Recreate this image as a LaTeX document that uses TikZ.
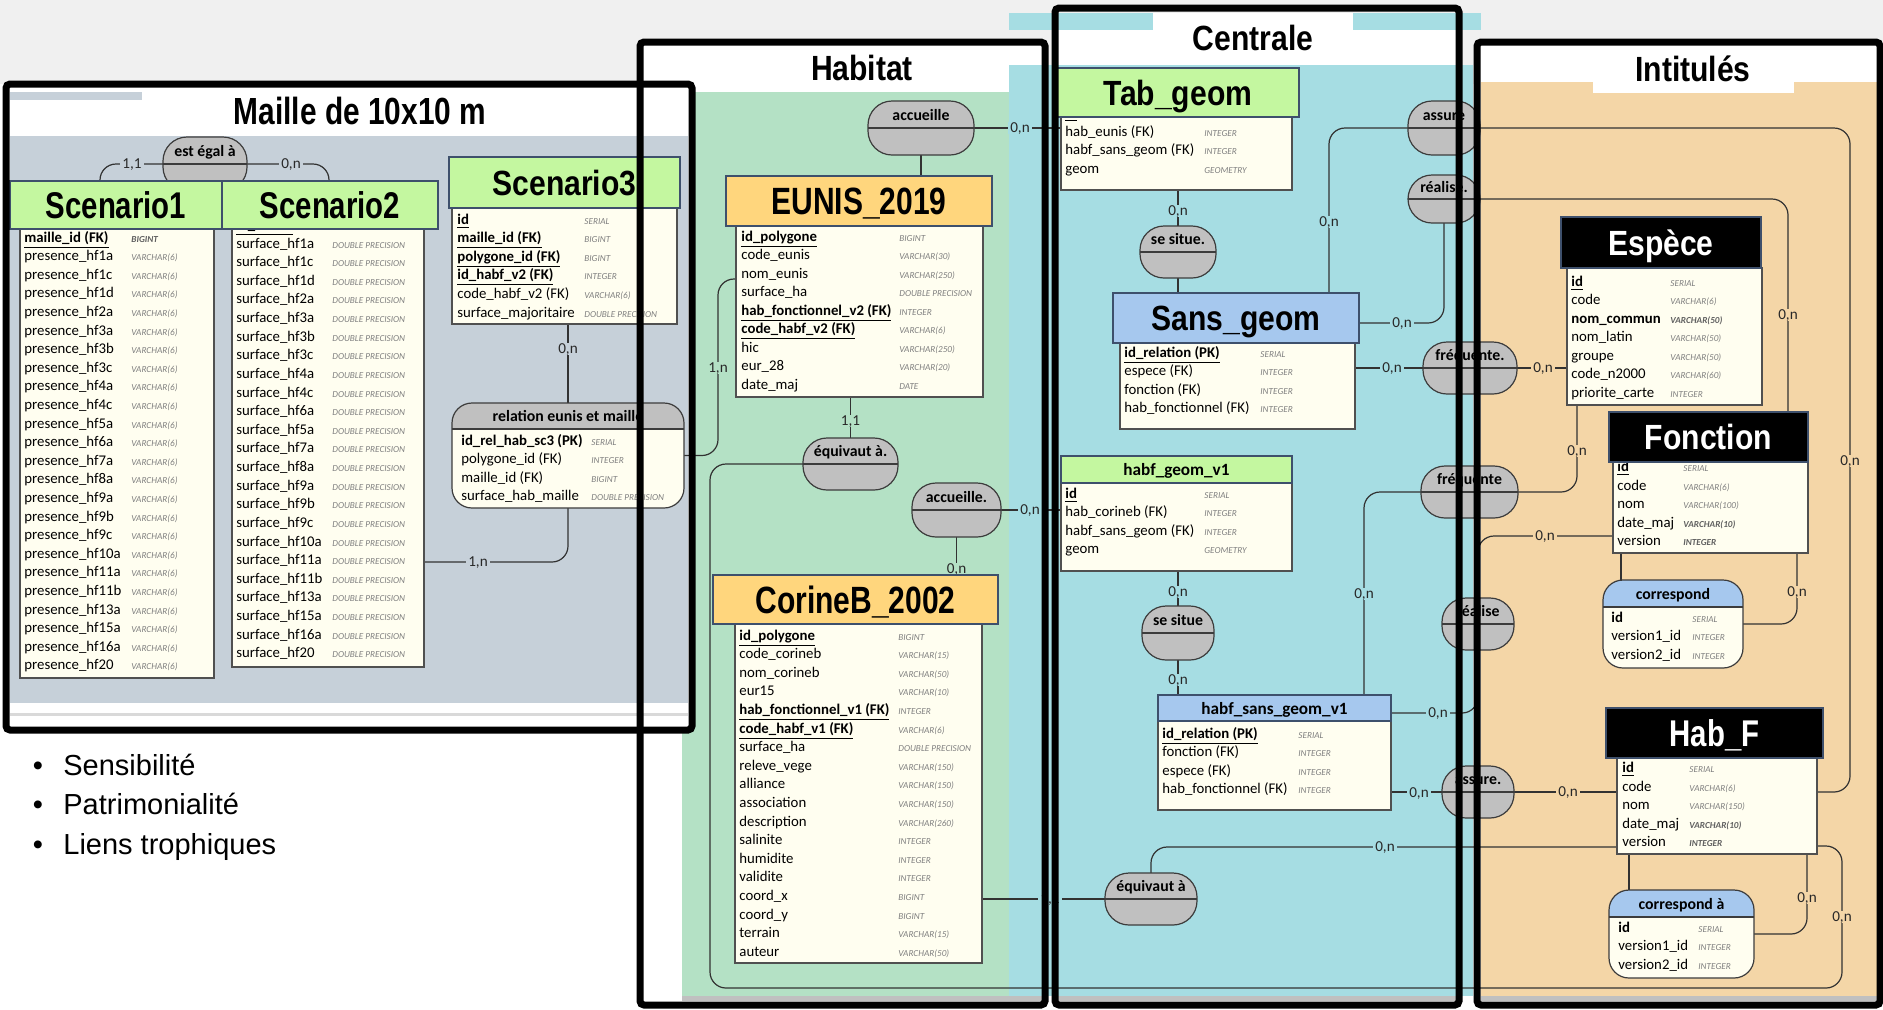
\documentclass[tikz,border=0pt]{standalone}
\usepackage{fontspec}
\setmainfont{Carlito}
\newfontfamily\hdrA[FakeStretch=0.86]{Liberation Sans}
\newfontfamily\hdrB[FakeStretch=0.79]{Liberation Sans}
\newfontfamily\arialf{Liberation Sans}
\usetikzlibrary{calc}
\pgfdeclarelayer{bg}
\pgfdeclarelayer{conn}
\pgfdeclarelayer{top}
\pgfsetlayers{bg,conn,main,top}
\definecolor{topg}{RGB}{240,240,240}
\definecolor{mgray}{RGB}{198,208,217}
\definecolor{hgreen}{RGB}{180,225,197}
\definecolor{ccyan}{RGB}{166,221,227}
\definecolor{iorange}{RGB}{244,214,167}
\definecolor{bandg}{RGB}{192,192,192}
\definecolor{bodyc}{RGB}{255,254,240}
\definecolor{bodyd}{RGB}{80,80,80}
\definecolor{hdrd}{RGB}{62,80,108}
\definecolor{hgr}{RGB}{196,247,160}
\definecolor{hor}{RGB}{255,214,125}
\definecolor{hbl}{RGB}{166,200,238}
\definecolor{relc}{RGB}{192,192,192}
\definecolor{reld}{RGB}{60,60,60}
\definecolor{lnc}{RGB}{50,50,50}
\definecolor{typec}{RGB}{128,128,128}
\definecolor{typedk}{RGB}{95,95,95}
\definecolor{lbltc}{RGB}{40,40,40}
\newcommand\kf[1]{\underline{\textbf{#1}}}
\newcommand\dk[1]{\textcolor{typedk}{\bfseries #1}}
\tikzset{
 conn/.style={draw=lnc, line width=0.6pt, rounded corners=8pt},
 lbl/.style={font=\fontsize{7.6}{8}\selectfont, text=lbltc, inner xsep=1pt, inner ysep=0.6pt, text height=4.8pt, text depth=0pt},
 fname/.style={font=\fontsize{7.4}{9}\selectfont, inner sep=0pt},
 ftype/.style={font=\fontsize{4.6}{5}\selectfont\itshape, inner sep=0pt, text=typec},
 tbody/.style={fill=bodyc, draw=bodyd, line width=0.6pt, inner sep=0pt, outer sep=0pt},
 thdr/.style={draw=hdrd, line width=0.8pt, inner sep=0pt, outer sep=0pt, text depth=0pt},
 shdr/.style={draw=hdrd, line width=0.6pt, inner sep=0pt, outer sep=0pt, text height=6pt, text depth=0pt, font=\bfseries\fontsize{8.6}{9}\selectfont},
 relbox/.style={fill=relc, draw=reld, line width=0.6pt, rounded corners=12pt, inner sep=0pt, outer sep=0pt},
 reltxt/.style={font=\bfseries\fontsize{7.9}{9}\selectfont, inner sep=0pt, text height=5.6pt, text depth=0pt},
 framebox/.style={draw=black, line width=3.5pt, rounded corners=2pt},
 ttl/.style={inner sep=0pt, text depth=0pt},
 bul/.style={font=\arialf\fontsize{14.5}{15}\selectfont, inner sep=0pt},
}
\newcommand\tbl[5]{\node[tbody, anchor=north west, minimum width={(#4-#2)*0.5pt}, minimum height={(#5-#3)*0.5pt}] (#1) at (#2,#3) {};}
\newcommand\hd[9]{\node[thdr, #6, anchor=north west, minimum width={(#4-#2)*0.5pt}, minimum height={(#5-#3)*0.5pt}, font=#8\bfseries\selectfont, text height=#9] (#1) at (#2,#3) {#7};}
\newcommand\sh[7]{\node[shdr, fill=#6, anchor=north west, minimum width={(#4-#2)*0.5pt}, minimum height={(#5-#3)*0.5pt}] (#1) at (#2,#3) {#7};}
\newcommand\rl[6]{%
 \node[relbox, anchor=north west, minimum width={(#4-#2)*0.5pt}, minimum height={(#5-#3)*0.5pt}] (#1) at (#2,#3) {};
 \draw[reld, line width=0.6pt] (#1.west) -- (#1.east);
 \node[reltxt] (#1t) at ($(#1.north)!0.5!(#1.center)$) {#6};}
\newcommand\rt[8]{%
 \fill[bodyc, rounded corners=10pt] (#2,#3) rectangle (#4,#5);
 \begin{scope}
  \clip[rounded corners=10pt] (#2,#3) rectangle (#4,#5);
  \fill[#7] (#2,#3) rectangle (#4,#6);
 \end{scope}
 \draw[reld, line width=0.6pt] (#2,#6) -- (#4,#6);
 \node[draw=reld, line width=0.6pt, rounded corners=10pt, inner sep=0pt, outer sep=0pt, anchor=north west, minimum width={(#4-#2)*0.5pt}, minimum height={(#5-#3)*0.5pt}] (#1) at (#2,#3) {};
 \node[reltxt] (#1t) at ({(#2+#4)/2},{(#3+#6)/2}) {#8};}
\newcommand\rows[6]{\foreach \nm/\ty [count=\i from 0] in {#6}{%
 \node[fname, anchor=base west] (#1n\i) at (#2,{#4+\i*#5}) {\nm};
 \node[ftype, anchor=base west] (#1t\i) at (#3,{#4+\i*#5}) {\ty};}}
\newcommand\lab[5]{\node[lbl, fill=#4] (#1) at (#2,#3) {#5};}
\begin{document}
\begin{tikzpicture}[x=0.5pt,y=-0.5pt]
\useasboundingbox (0,0) rectangle (1883,1009);
% ---------------- backgrounds
\begin{pgfonlayer}{bg}
\fill[white] (0,0) rectangle (1883,1009);
\fill[topg] (0,0) rectangle (1883,84);
\fill[white] (640,42) rectangle (1045,1005);
\fill[hgreen] (682,92) rectangle (1010,996);
\fill[bandg] (682,996) rectangle (1045,1001);
\fill[ccyan] (1009,13) rectangle (1481,30);
\fill[ccyan] (1009,65) rectangle (1473,996);
\fill[white] (1058,30) rectangle (1456,65);
\fill[white] (1153,13) rectangle (1353,30);
\fill[bandg] (1058,996) rectangle (1456,1001);
\fill[white] (1477,42) rectangle (1880,1005);
\fill[iorange] (1481,82) rectangle (1877,996);
\fill[white] (1593,45) rectangle (1794,93);
\fill[bandg] (1481,996) rectangle (1877,1001);
\fill[white] (6,84) rectangle (692,730);
\fill[mgray] (10,136) rectangle (688,703);
\fill[mgray] (10,92) rectangle (142,100);
\fill[bandg!60] (10,713) rectangle (688,716);
\end{pgfonlayer}
% ---------------- titles
\node[ttl, font=\hdrB\bfseries\fontsize{18.9}{19}\selectfont, text height=13.5pt] (tmaille) at (360,110.5) {Maille de 10x10 m};
\node[ttl, font=\hdrA\bfseries\fontsize{17.5}{18}\selectfont, text height=12.5pt] (thab) at (862,67.5) {Habitat};
\node[ttl, font=\hdrA\bfseries\fontsize{17.5}{18}\selectfont, text height=12.5pt] (tcen) at (1253,37.5) {Centrale};
\node[ttl, font=\hdrA\bfseries\fontsize{17.5}{18}\selectfont, text height=12.5pt] (tint) at (1693,69) {Intitulés};
% ---------------- relations
\rl{estegal}{163}{137}{247}{191}{est égal à}
\rl{acc1}{868}{101}{974}{155}{accueille}
\rl{eq1}{803}{438}{898}{490}{équivaut à.}
\rl{acc2}{912}{483}{1001}{537}{accueille.}
\rl{ss1}{1140}{226}{1216}{278}{se situe.}
\rl{ss2}{1142}{606}{1214}{660}{se situe}
\rl{as1}{1408}{101}{1480}{155}{assure}
\rl{rz1}{1408}{175}{1480}{223}{réalise.}
\rl{fq1}{1423}{342}{1517}{394}{fréquente.}
\rl{fq2}{1421}{466}{1518}{518}{fréquente}
\rl{rz2}{1442}{598}{1514}{650}{réalise}
\rl{as2}{1442}{766}{1514}{818}{assure.}
\rl{eq2}{1105}{873}{1197}{925}{équivaut à}
% ---------------- table bodies
\tbl{s1b}{20}{229}{214}{678}
\tbl{s2b}{232}{229}{424}{667}
\tbl{s3b}{452}{208}{677}{324}
\tbl{eub}{736}{226}{983}{397}
\tbl{cbb}{735}{624}{982}{963}
\tbl{tgb}{1061}{117}{1292}{190}
\tbl{sgb}{1120}{343}{1355}{429}
\tbl{hgb}{1061}{483}{1292}{571}
\tbl{hsb}{1158}{721}{1391}{810}
\tbl{esb}{1567}{268}{1762}{405}
\tbl{fob}{1613}{462}{1808}{553}
\tbl{hfb}{1617}{758}{1817}{854}
\rt{re}{452}{403}{684}{508}{429}{relc}{relation eunis et maille}
\rt{co}{1603}{580}{1743}{668}{607}{hbl}{correspond}
\rt{ca}{1609}{890}{1754}{978}{917}{hbl}{correspond à}
% ---------------- rows
\rows{s1}{24}{131}{242}{18.6}{\kf{maille\_id (FK)}/\dk{BIGINT}, presence\_hf1a/VARCHAR(6), presence\_hf1c/VARCHAR(6), presence\_hf1d/VARCHAR(6), presence\_hf2a/VARCHAR(6), presence\_hf3a/VARCHAR(6), presence\_hf3b/VARCHAR(6), presence\_hf3c/VARCHAR(6), presence\_hf4a/VARCHAR(6), presence\_hf4c/VARCHAR(6), presence\_hf5a/VARCHAR(6), presence\_hf6a/VARCHAR(6), presence\_hf7a/VARCHAR(6), presence\_hf8a/VARCHAR(6), presence\_hf9a/VARCHAR(6), presence\_hf9b/VARCHAR(6), presence\_hf9c/VARCHAR(6), presence\_hf10a/VARCHAR(6), presence\_hf11a/VARCHAR(6), presence\_hf11b/VARCHAR(6), presence\_hf13a/VARCHAR(6), presence\_hf15a/VARCHAR(6), presence\_hf16a/VARCHAR(6), presence\_hf20/VARCHAR(6)}
\rows{s2}{236}{332}{229.5}{18.62}{\kf{id\_maille}/BIGINT, surface\_hf1a/DOUBLE PRECISION, surface\_hf1c/DOUBLE PRECISION, surface\_hf1d/DOUBLE PRECISION, surface\_hf2a/DOUBLE PRECISION, surface\_hf3a/DOUBLE PRECISION, surface\_hf3b/DOUBLE PRECISION, surface\_hf3c/DOUBLE PRECISION, surface\_hf4a/DOUBLE PRECISION, surface\_hf4c/DOUBLE PRECISION, surface\_hf6a/DOUBLE PRECISION, surface\_hf5a/DOUBLE PRECISION, surface\_hf7a/DOUBLE PRECISION, surface\_hf8a/DOUBLE PRECISION, surface\_hf9a/DOUBLE PRECISION, surface\_hf9b/DOUBLE PRECISION, surface\_hf9c/DOUBLE PRECISION, surface\_hf10a/DOUBLE PRECISION, surface\_hf11a/DOUBLE PRECISION, surface\_hf11b/DOUBLE PRECISION, surface\_hf13a/DOUBLE PRECISION, surface\_hf15a/DOUBLE PRECISION, surface\_hf16a/DOUBLE PRECISION, surface\_hf20/DOUBLE PRECISION}
\rows{s3}{457}{584}{224}{18.6}{\kf{id}/SERIAL, \kf{maille\_id (FK)}/BIGINT, \kf{polygone\_id (FK)}/BIGINT, \kf{id\_habf\_v2 (FK)}/INTEGER, code\_habf\_v2 (FK)/VARCHAR(6), surface\_majoritaire/DOUBLE PRECISION}
\rows{re}{461}{591}{445}{18.6}{\textbf{id\_rel\_hab\_sc3 (PK)}/SERIAL, polygone\_id (FK)/INTEGER, maille\_id (FK)/BIGINT, surface\_hab\_maille/DOUBLE PRECISION}
\rows{eu}{741}{899}{241}{18.5}{\kf{id\_polygone}/BIGINT, code\_eunis/VARCHAR(30), nom\_eunis/VARCHAR(250), surface\_ha/DOUBLE PRECISION, \kf{hab\_fonctionnel\_v2 (FK)}/INTEGER, \kf{code\_habf\_v2 (FK)}/VARCHAR(6), hic/VARCHAR(250), eur\_28/VARCHAR(20), date\_maj/DATE}
\rows{cb}{739}{898}{640}{18.6}{\kf{id\_polygone}/BIGINT, code\_corineb/VARCHAR(15), nom\_corineb/VARCHAR(50), eur15/VARCHAR(10), \kf{hab\_fonctionnel\_v1 (FK)}/INTEGER, \kf{code\_habf\_v1 (FK)}/VARCHAR(6), surface\_ha/DOUBLE PRECISION, releve\_vege/VARCHAR(150), alliance/VARCHAR(150), association/VARCHAR(150), description/VARCHAR(260), salinite/INTEGER, humidite/INTEGER, validite/INTEGER, coord\_x/BIGINT, coord\_y/BIGINT, terrain/VARCHAR(15), auteur/VARCHAR(50)}
\rows{tg}{1065}{1204}{117.5}{18.5}{\kf{id}/SERIAL, hab\_eunis (FK)/INTEGER, habf\_sans\_geom (FK)/INTEGER, geom/GEOMETRY}
\rows{sg}{1124}{1260}{357}{18.5}{\kf{id\_relation (PK)}/SERIAL, espece (FK)/INTEGER, fonction (FK)/INTEGER, hab\_fonctionnel (FK)/INTEGER}
\rows{hg}{1065}{1204}{498}{18.6}{\kf{id}/SERIAL, hab\_corineb (FK)/INTEGER, habf\_sans\_geom (FK)/INTEGER, geom/GEOMETRY}
\rows{hs}{1162}{1298}{738}{18.6}{\kf{id\_relation (PK)}/SERIAL, fonction (FK)/INTEGER, espece (FK)/INTEGER, hab\_fonctionnel (FK)/INTEGER}
\rows{es}{1571}{1670}{286}{18.5}{\kf{id}/SERIAL, code/VARCHAR(6), \textbf{nom\_commun}/\dk{VARCHAR(50)}, nom\_latin/VARCHAR(50), groupe/VARCHAR(50), code\_n2000/VARCHAR(60), priorite\_carte/INTEGER}
\rows{fo}{1617}{1683}{471.4}{18.6}{\kf{id}/SERIAL, code/VARCHAR(6), nom/VARCHAR(100), date\_maj/\dk{VARCHAR(10)}, version/\dk{INTEGER}}
\rows{co}{1611}{1692}{622}{18.6}{\textbf{id}/SERIAL, version1\_id/INTEGER, version2\_id/INTEGER}
\rows{hf}{1622}{1689}{772.5}{18.6}{\kf{id}/SERIAL, code/VARCHAR(6), nom/VARCHAR(150), date\_maj/\dk{VARCHAR(10)}, version/\dk{INTEGER}}
\rows{ca}{1618}{1698}{932}{18.5}{\textbf{id}/SERIAL, version1\_id/INTEGER, version2\_id/INTEGER}
% ---------------- headers
\hd{s1h}{10}{181}{222}{229}{fill=hgr}{Scenario1}{\hdrB\fontsize{18.6}{19}}{13.3pt}
\hd{s2h}{222}{181}{438}{229}{fill=hgr}{Scenario2}{\hdrB\fontsize{18.6}{19}}{13.3pt}
\hd{s3h}{449}{157}{680}{208}{fill=hgr}{Scenario3}{\hdrA\fontsize{17.5}{18}}{12.5pt}
\hd{euh}{726}{176}{992}{226}{fill=hor}{EUNIS\_2019}{\hdrB\fontsize{19}{19}}{13.6pt}
\hd{cbh}{713}{575}{998}{624}{fill=hor}{CorineB\_2002}{\hdrB\fontsize{19}{19}}{13.6pt}
\hd{tgh}{1057}{68}{1299}{117}{fill=hgr}{Tab\_geom}{\hdrA\fontsize{17.5}{18}}{12.5pt}
\hd{sgh}{1113}{293}{1359}{343}{fill=hbl}{Sans\_geom}{\hdrA\fontsize{17.5}{18}}{12.5pt}
\hd{esh}{1561}{217}{1761}{268}{fill=black,text=white}{Espèce}{\hdrA\fontsize{17.5}{18}}{12.5pt}
\hd{foh}{1609}{412}{1808}{462}{fill=black,text=white}{Fonction}{\hdrA\fontsize{17.5}{18}}{12.5pt}
\hd{hfh}{1606}{708}{1823}{758}{fill=black,text=white}{Hab\_F}{\hdrB\fontsize{18.6}{19}}{13.3pt}
\sh{hgh}{1061}{456}{1292}{483}{hgr}{habf\_geom\_v1}
\sh{hsh}{1158}{695}{1391}{721}{hbl}{habf\_sans\_geom\_v1}
% ---------------- bullets
\node[bul, anchor=base] (b1) at (38,775) {•};
\node[bul, anchor=base west] (b1t) at (63,775) {Sensibilité};
\node[bul, anchor=base] (b2) at (38,814.6) {•};
\node[bul, anchor=base west] (b2t) at (63,814.6) {Patrimonialité};
\node[bul, anchor=base] (b3) at (38,854.2) {•};
\node[bul, anchor=base west] (b3t) at (63,854.2) {Liens trophiques};
% ---------------- connectors
\begin{pgfonlayer}{conn}
\draw[conn] (s1h.north -| 100,0) -- (100,164) -- (estegal.west);
\draw[conn] (estegal.east) -- (329,164) -- (s2h.north -| 329,0);
\draw[conn] (s3b.south -| re.north) -- (re.north);
\draw[conn] (re.south) -- (568,562) -- (s2b.east |- 0,562);
\draw[conn] (re.east) -- (re.east -| 718,0) -- (718,279) -- (eub.west |- 0,279);
\draw[conn] (acc1.south) -- (acc1.south |- euh.north);
\draw[conn] (acc1.east) -- (acc1.east -| tgb.west);
\draw[conn] (eub.south -| eq1.north) -- (eq1.north);
\draw[conn] (eq1.west) -- (eq1.west -| 710,0) -- (710,988) -- (1842,988) -- (1842,846) -- (hfb.east |- 0,846);
\draw[conn] (acc2.south) -- (acc2.south |- cbh.north);
\draw[conn] (acc2.east) -- (acc2.east -| hgb.west);
\draw[conn] (cbb.east |- eq2.west) -- (eq2.west);
\draw[conn] (tgb.south -| ss1.north) -- (ss1.north);
\draw[conn] (ss1.south) -- (ss1.south |- sgh.north);
\draw[conn] (sgh.north -| 1329,0) -- (1329,128) -- (as1.west);
\draw[conn] (sgh.east |- 0,323) -- (rz1.south |- 0,323) -- (rz1.south);
\draw[conn] (sgb.east |- fq1.west) -- (fq1.west);
\draw[conn] (hgb.south -| ss2.north) -- (ss2.north);
\draw[conn] (ss2.south) -- (ss2.south |- hsh.north);
\draw[conn] (hsh.north -| 1364,0) -- (1364,492) -- (fq2.west);
\draw[conn] (hsh.east |- 0,713) -- (rz2.south |- 0,713) -- (rz2.south);
\draw[conn] (hsb.east |- as2.west) -- (as2.west);
\draw[conn] (eq2.north) -- (eq2.north |- 0,847) -- (hfb.west |- 0,847);
\draw[conn] (fq1.east) -- (fq1.east -| esb.west);
\draw[conn] (fq2.east) -- (1577,492) -- (esb.south -| 1577,0);
\draw[conn] (rz2.north) -- (rz2.north |- 0,536) -- (fob.west |- 0,536);
\draw[conn] (as2.east) -- (as2.east -| hfb.west);
\draw[conn] (rz1.east) -- (1788,199) -- (foh.north -| 1788,0);
\draw[conn] (as1.east) -- (1850,128) -- (1850,792) -- (hfb.east |- 0,792);
\draw[conn] (fob.south -| 1621,0) -- (co.north -| 1621,0);
\draw[conn] (co.east |- 0,624) -- (1797,624) -- (fob.south -| 1797,0);
\draw[conn] (hfb.south -| 1629,0) -- (ca.north -| 1629,0);
\draw[conn] (ca.east |- 0,934) -- (1807,934) -- (hfb.south -| 1807,0);
% labels
\lab{L1}{132}{164}{mgray}{1,1}
\lab{L2}{291}{164}{mgray}{0,n}
\lab{L3}{568}{349}{mgray}{0,n}
\lab{L4}{478}{562}{mgray}{1,n}
\lab{L5}{718}{368}{hgreen}{1,n}
\lab{L6}{850.5}{421}{hgreen}{1,1}
\lab{L7}{956.5}{569}{hgreen}{0,n}
\lab{L8}{1020}{128}{ccyan}{0,n}
\lab{L9}{1030}{510}{ccyan}{0,n}
\lab{L10}{1050}{899}{ccyan}{1,1}
\lab{L11}{1178}{211}{ccyan}{0,n}
\lab{L12}{1329}{222}{ccyan}{0,n}
\lab{L13}{1402}{323}{ccyan}{0,n}
\lab{L14}{1392}{368}{ccyan}{0,n}
\lab{L15}{1178}{592}{ccyan}{0,n}
\lab{L16}{1178}{680}{ccyan}{0,n}
\lab{L17}{1364}{594}{ccyan}{0,n}
\lab{L18}{1438}{713}{ccyan}{0,n}
\lab{L19}{1419}{793}{ccyan}{0,n}
\lab{L20}{1385}{847}{ccyan}{0,n}
\lab{L21}{1543}{368}{iorange}{0,n}
\lab{L22}{1577}{451}{iorange}{0,n}
\lab{L23}{1545}{536}{iorange}{0,n}
\lab{L24}{1788}{315}{iorange}{0,n}
\lab{L25}{1850}{461}{iorange}{0,n}
\lab{L26}{1797}{592}{iorange}{0,n}
\lab{L27}{1568}{792}{iorange}{0,n}
\lab{L28}{1807}{898}{iorange}{0,n}
\lab{L29}{1842}{917}{iorange}{0,n}
\end{pgfonlayer}
% ---------------- frames
\begin{pgfonlayer}{top}
\draw[framebox] (6,84) rectangle (692,730);
\draw[framebox] (640,42) rectangle (1045,1005);
\draw[framebox] (1055,8) rectangle (1459,1005);
\draw[framebox] (1477,42) rectangle (1880,1005);
\end{pgfonlayer}
\end{tikzpicture}
\end{document}
